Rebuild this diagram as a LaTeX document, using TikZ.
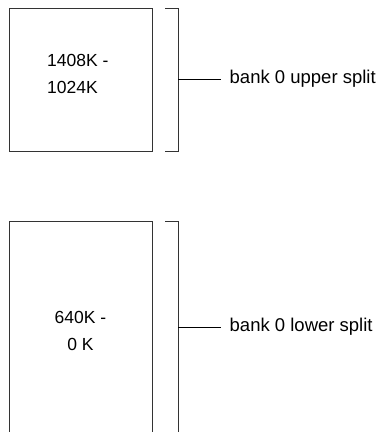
\documentclass[tikz,border=0pt]{standalone}
\usepackage{fontspec}
\setmainfont{Liberation Sans}
\begin{document}
\begin{tikzpicture}[x=1pt,y=-1pt,
  frame/.style={draw=black!80, line width=0.9pt},
  conn/.style={draw=black, line width=0.9pt},
  rangetext/.style={font=\fontsize{17.5}{26.5}\selectfont, inner sep=0pt},
  banklabel/.style={font=\fontsize{18.5}{22}\selectfont, inner xsep=8.5pt, inner ysep=0pt, anchor=west}]
\useasboundingbox (0,0) rectangle (379,432);
\clip (0,0) rectangle (379,432);
% upper block
\draw[frame] (9.5,8) rectangle (152,151);
\node[rangetext, anchor=west, align=left] (upr) at (47,74) {1408K -\\1024K};
\draw[frame] (165,8) -- (178,8) -- (178,151) -- (165,151);
\coordinate (ub) at (178,79);
\node[banklabel] (ul) at (221,79) {bank 0 upper split};
\draw[conn] (ub) -- (ul.west);
% lower block
\draw[frame] (9.5,440) -- (9.5,221) -- (152,221) -- (152,440);
\node[rangetext, align=center] (lwr) at (80.5,331) {640K -\\0 K};
\draw[frame] (165,221) -- (178,221) -- (178,440);
\coordinate (lb) at (178,327);
\node[banklabel] (ll) at (221,327) {bank 0 lower split};
\draw[conn] (lb) -- (ll.west);
\end{tikzpicture}
\end{document}
